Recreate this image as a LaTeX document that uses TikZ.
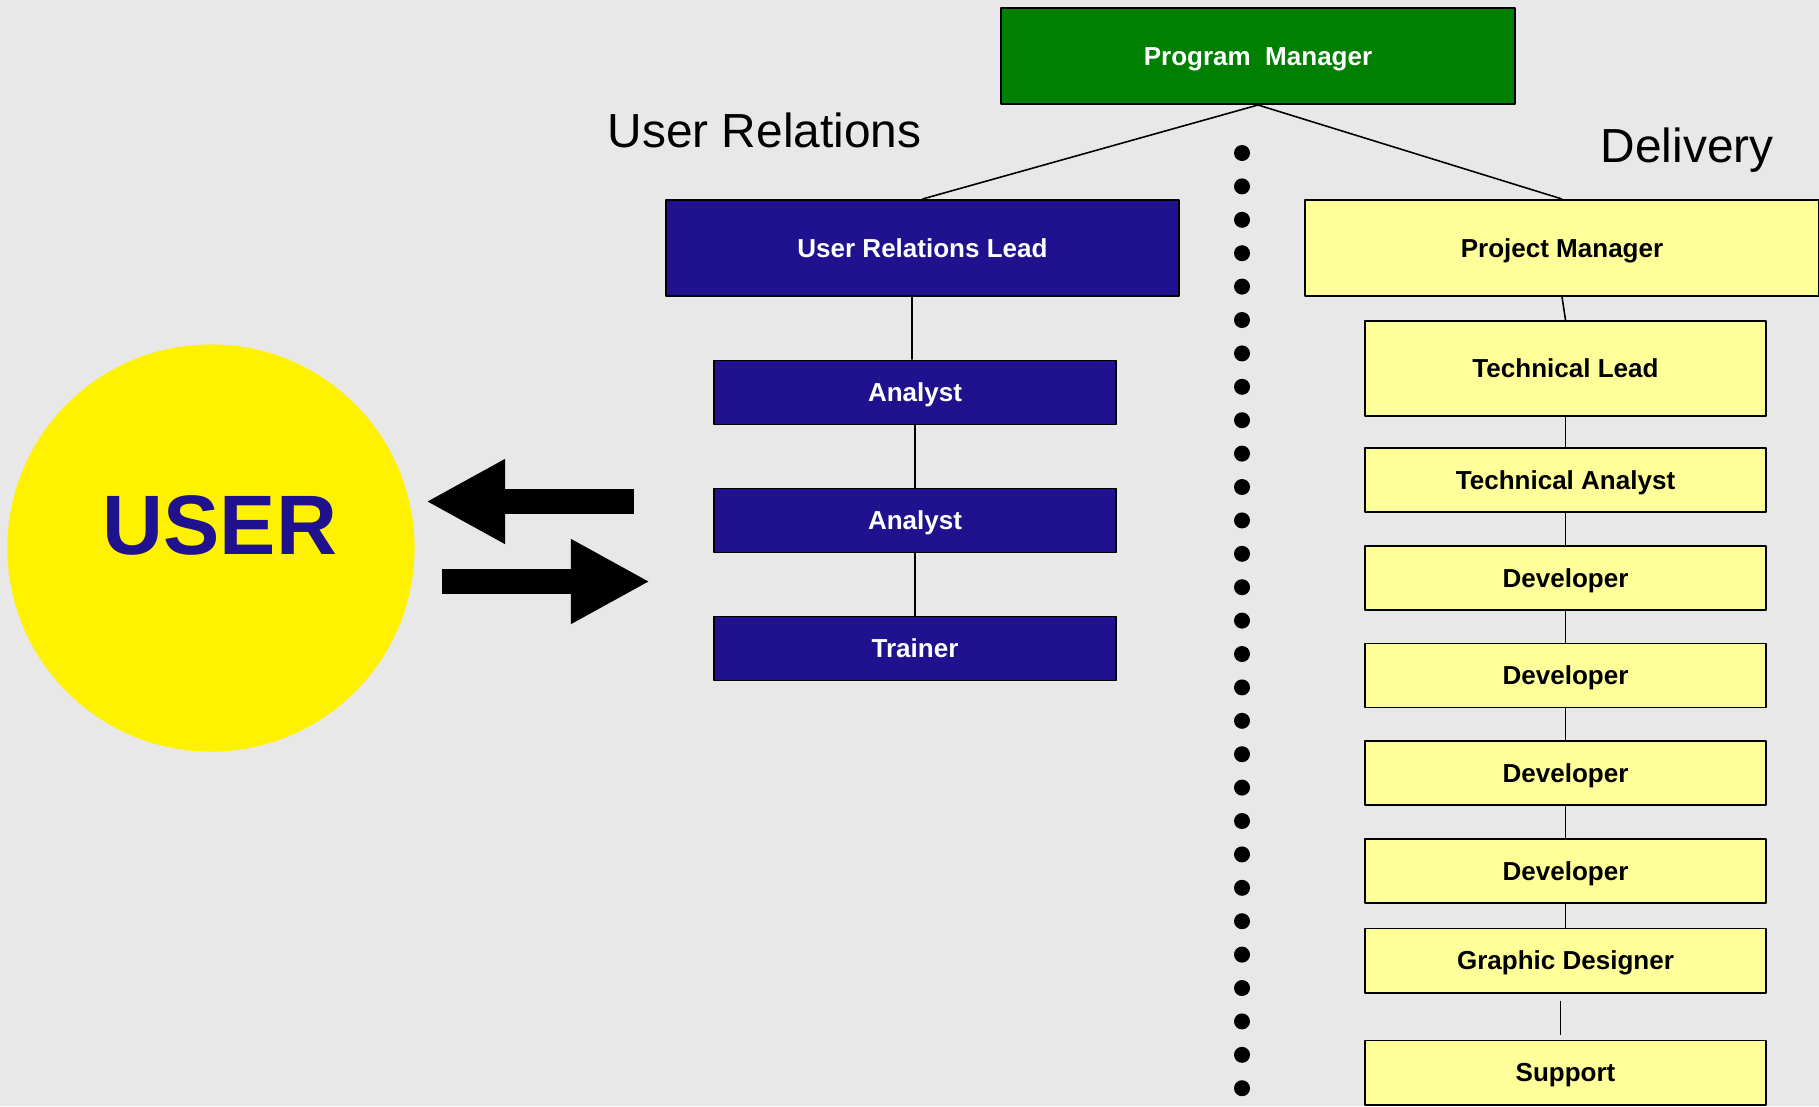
\documentclass[tikz,border=0pt]{standalone}
\usepackage{fontspec}
\setmainfont{Liberation Sans}
\usetikzlibrary{arrows.meta}
\definecolor{bggray}{HTML}{E8E8E8}
\definecolor{pmgreen}{HTML}{008000}
\definecolor{urblue}{HTML}{20118F}
\definecolor{dlyellow}{HTML}{FFFF99}
\definecolor{usryellow}{HTML}{FFF200}
\begin{document}
\begin{tikzpicture}[x=0.01cm,y=-0.01cm,line join=round,
    box/.style={draw=black,line width=0.55pt,inner sep=0pt,minimum width=4.01cm,minimum height=0.64cm,
        text height=5.3pt,text depth=0pt,font=\fontsize{7.4}{9}\selectfont\bfseries},
    wide/.style={minimum width=5.13cm,minimum height=0.96cm},
    pmbox/.style={box,wide,fill=pmgreen,text=white},
    urbox/.style={box,fill=urblue,text=white},
    dlbox/.style={box,fill=dlyellow,text=black},
    grouplabel/.style={inner sep=0pt,anchor=base west,font=\fontsize{13.6}{16}\selectfont},
    link/.style={line width=0.45pt},
    fatarrow/.style={line width=0.25cm,-{Triangle[length=0.79cm,width=0.79cm]}}]
    \def\xmax{1819} \def\ymax{1106}
    \useasboundingbox (0,0) rectangle (\xmax,\ymax);
    \fill[bggray] (0,0) rectangle (\xmax,\ymax);
    % top of the tree
    \node[pmbox] (pm) at (1258,56) {Program\ \ Manager};
    \node[grouplabel] (urlab) at (607,147) {User Relations};
    \node[grouplabel] (dllab) at (1600,162) {Delivery};
    % user relations branch
    \node[urbox,wide] (url) at (922.5,248) {User Relations Lead};
    \node[urbox] (an1) at (915,392.5) {Analyst};
    \node[urbox] (an2) at (915,520.5) {Analyst};
    \node[urbox] (tr) at (915,648.5) {Trainer};
    % delivery branch
    \node[dlbox,wide] (prj) at (1562,248) {Project Manager};
    \node[dlbox,minimum height=0.95cm] (tl) at (1565.5,368.5) {Technical Lead};
    \node[dlbox] (ta) at (1565.5,480) {Technical Analyst};
    \foreach \y [count=\i] in {578,675.5,773,871}
        \node[dlbox] (dev\i) at (1565.5,\y) {Developer};
    \node[dlbox] (gd) at (1565.5,960.5) {Graphic Designer};
    \node[dlbox] (sup) at (1565.5,1072.5) {Support};
    % connectors
    \draw[link] (pm.south) -- (url.north);
    \draw[link] (pm.south) -- (prj.north);
    \draw[link] ([xshift=-0.105cm]url.south) -- ([xshift=-0.03cm]an1.north);
    \draw[link] (an1.south) -- (an2.north);
    \draw[link] (an2.south) -- (tr.north);
    \draw[link] (prj.south) -- (tl.north);
    \draw[link] (tl.south) -- (ta.north);
    \draw[link] (ta.south) -- (dev1.north);
    \foreach \i/\j in {1/2,2/3,3/4}
        \draw[link] (dev\i.south) -- (dev\j.north);
    \draw[link] (dev4.south) -- (gd.north);
    \draw[link] ([xshift=-0.05cm,yshift=-0.07cm]gd.south) -- ([xshift=-0.05cm,yshift=0.05cm]sup.north);
    % dotted divider
    \foreach \i in {0,...,28}
        \fill (1242,153+33.4*\i) circle (0.08cm);
    % the user and the two way traffic
    \node[circle,fill=usryellow,minimum size=4.07cm,inner sep=0pt] (usr) at (211,548) {};
    \node[text=urblue,inner sep=0pt,font=\fontsize{24}{28}\selectfont\bfseries] (usrtxt) at (220,525) {USER};
    \draw[fatarrow] (634,501.5) -- (426,501.5);
    \draw[fatarrow] (442,581.5) -- (650,581.5);
\end{tikzpicture}
\end{document}
